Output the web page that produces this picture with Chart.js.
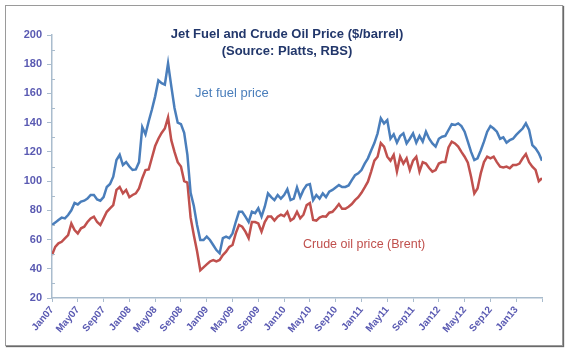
<!DOCTYPE html>
<html>
<head>
<meta charset="utf-8">
<script src="https://cdn.jsdelivr.net/npm/chart.js@4.4.1/dist/chart.umd.min.js"></script>
<style>
  html, body { margin: 0; padding: 0; background: #ffffff; }
  #wrap { position: relative; width: 570px; height: 358px; }
  #frame { position: absolute; left: 5px; top: 5px; width: 556px; height: 339px;
           border: 1px solid #9a9a9a; box-shadow: 1px 1px 1px #6a6a6a; pointer-events: none; }
  canvas { position: absolute; left: 0; top: 0; }
</style>
</head>
<body>
<div id="wrap">
  <canvas id="c" width="570" height="358"></canvas>
  <div id="frame"></div>
</div>
<script>
// Semi-monthly readings, Jan 2007 (first half) .. May 2013 (first half)
const jetFuel = [
  70, 71.6, 73.4, 75, 74.5, 76.8, 80, 85, 84, 86,
  86.6, 88, 90.5, 90.5, 87.5, 86.6, 89, 96, 98, 103,
  114.4, 118, 111, 113, 110, 107.6, 108, 113, 137, 132,
  141, 149, 158, 169, 167, 166, 180.6, 165, 150, 140,
  139, 133, 118, 92, 83, 70, 59.7, 59.7, 62, 59.7,
  56.3, 52.8, 50.6, 61, 62, 61, 64.2, 72, 79, 79,
  75.7, 72, 79, 78, 81.4, 75.7, 82.5, 91.6, 89, 87,
  90.5, 88, 90.5, 94.4, 87, 88, 95.7, 89, 94, 97.3,
  98, 87, 90.5, 88, 91.6, 89, 92.8, 94, 95.7, 97.3,
  96, 96, 97, 100.7, 104, 105.3, 107.6, 112, 115.6, 121,
  126, 132.7, 143, 139.5, 141.8, 129, 132, 126.3, 130.9, 132.7,
  125.8, 129, 132.7, 126.3, 130.9, 127, 133.8, 129, 125.8, 123.6,
  129, 130.4, 130.9, 135, 139, 138.4, 139.5, 137.7, 133.8, 127,
  120, 114.4, 115.6, 121, 127, 133.8, 137.7, 136, 133.8, 129,
  130, 126.3, 128, 129, 131.6, 133.8, 136, 139.5, 135, 124.7,
  122.4, 119, 114
];
const crudeBrent = [
  49.4, 55, 57.4, 58.5, 60.8, 63, 71, 66.5, 64.2, 67.7,
  68.8, 72, 74.5, 75.7, 72, 70, 74.5, 79, 81.4, 83.6,
  94, 96, 91.6, 94, 89, 90.5, 91.6, 95, 102, 107.6,
  108, 116, 124, 129, 133, 136, 143.6, 128, 120, 113,
  110, 100, 99, 75, 63, 52, 39, 41, 43, 45,
  46, 45, 46, 49.4, 51.7, 55, 56.3, 64.2, 70, 68.8,
  65.4, 61, 72, 72, 71, 65.4, 72, 75.7, 75.7, 73,
  75.7, 77, 76, 79, 73, 74.5, 79, 74.5, 77, 83.6,
  85, 73.4, 73, 75, 76, 75.7, 78.4, 79, 81.4, 84.3,
  81, 81, 82.5, 84.3, 87, 89, 92, 95.7, 99.6, 106.5,
  114, 116.7, 126, 123.6, 116.7, 114, 118, 106.5, 116.7, 112,
  115.6, 107.6, 114, 116.7, 106.5, 113, 112, 109, 106.5, 107.6,
  112, 113, 113, 123, 127, 125.8, 123.6, 120, 116.7, 112.6,
  103, 91.6, 95, 105.3, 113, 116.7, 115.6, 116.7, 113, 109.9,
  109.4, 109.9, 108.8, 111, 111, 112, 115.6, 118.5, 113, 109.9,
  107.6, 100, 102
];
// x position of each reading, in months since Jan07
const monthIndex = jetFuel.map((_, i) => i / 2);
const tickLabels = ["Jan07","May07","Sep07","Jan08","May08","Sep08","Jan09","May09","Sep09",
  "Jan10","May10","Sep10","Jan11","May11","Sep11","Jan12","May12","Sep12","Jan13"];
const yTicks = [20, 40, 60, 80, 100, 120, 140, 160, 180, 200];

const axisColor = '#a9bccd';
const labelColor = '#5a5ab2';
const FONT = '"Liberation Sans", Arial, sans-serif';

const overlay = {
  id: 'overlay',
  afterDraw(chart) {
    const ctx = chart.ctx;
    const y = chart.scales.y;
    const left = chart.chartArea.left;
    ctx.save();
    // minor ticks
    ctx.strokeStyle = axisColor; ctx.lineWidth = 1;
    for (let i = 0; i < yTicks.length - 1; i++) {
      const v = (yTicks[i] + yTicks[i + 1]) / 2;
      const py = Math.round(y.getPixelForValue(v)) + 0.5;
      ctx.beginPath(); ctx.moveTo(left, py); ctx.lineTo(left + 3, py); ctx.stroke();
    }
    // title
    ctx.fillStyle = '#22376b';
    ctx.font = 'bold 13px ' + FONT;
    ctx.textAlign = 'center'; ctx.textBaseline = 'middle';
    ctx.fillText('Jet Fuel and Crude Oil Price ($/barrel)', 287, 34);
    ctx.fillText('(Source: Platts, RBS)', 287, 51);
    // series labels
    ctx.textAlign = 'left';
    ctx.font = '13px ' + FONT;
    ctx.fillStyle = '#4a7ebb';
    ctx.fillText('Jet fuel price', 195, 93);
    ctx.font = '12.5px ' + FONT;
    ctx.fillStyle = '#c0504d';
    ctx.fillText('Crude oil price (Brent)', 303, 245);
    ctx.restore();
  }
};

new Chart(document.getElementById('c'), {
  type: 'line',
  data: {
    datasets: [
      { label: 'Jet fuel price', data: jetFuel.map((v, i) => ({ x: monthIndex[i], y: v })),
        borderColor: '#4a7ebb', borderWidth: 2.5, pointRadius: 0, tension: 0, fill: false },
      { label: 'Crude oil price (Brent)', data: crudeBrent.map((v, i) => ({ x: monthIndex[i], y: v })),
        borderColor: '#c0504d', borderWidth: 2.5, pointRadius: 0, tension: 0, fill: false }
    ]
  },
  options: {
    responsive: false, animation: false, devicePixelRatio: 1,
    layout: { padding: { top: 35, right: 28, left: 0, bottom: 0 } },
    plugins: { legend: { display: false }, tooltip: { enabled: false }, title: { display: false } },
    scales: {
      x: {
        type: 'linear', min: 0, max: 76,
        afterFit: s => { s.height = 60; },
        grid: { drawOnChartArea: false, tickLength: 4, color: axisColor },
        border: { color: axisColor, width: 1.5 },
        ticks: {
          stepSize: 4, autoSkip: false, minRotation: 50, maxRotation: 50, padding: 2,
          color: labelColor, font: { family: FONT, size: 10, weight: 'bold' },
          callback: v => tickLabels[v / 4] ?? ''
        }
      },
      y: {
        min: 20, max: 200,
        afterFit: s => { s.width = 52; },
        grid: { drawOnChartArea: false, tickLength: 5, color: axisColor },
        border: { color: axisColor, width: 1.5 },
        ticks: {
          stepSize: 20, padding: 5, color: labelColor,
          font: { family: FONT, size: 11, weight: 'bold' }
        }
      }
    }
  },
  plugins: [overlay]
});
</script>
</body>
</html>
